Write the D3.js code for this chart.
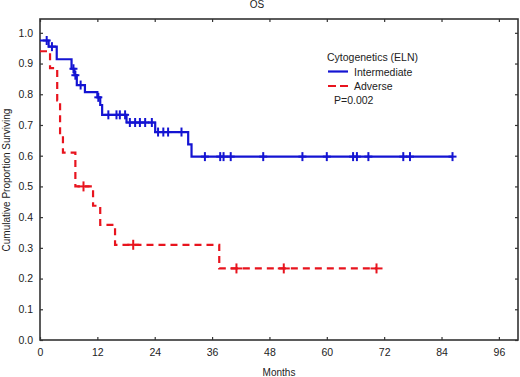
<!DOCTYPE html>
<html>
<head>
<meta charset="utf-8">
<script src="https://cdn.jsdelivr.net/npm/d3@7"></script>
<style>
  body { margin: 0; background: #fff; }
  text { font-family: 'Liberation Sans', Arial, sans-serif; fill: #222; }
</style>
</head>
<body>
<div id="grafica"></div>
<script>
// datos
inter_times  = [0, 1.8, 3.5, 6.6, 7.2, 7.7, 9.4, 12.0, 12.6, 13.0, 18.1, 24.1, 31.0, 31.7]
inter_surv   = [0.975, 0.955, 0.914, 0.883, 0.862, 0.83, 0.807, 0.79, 0.765, 0.733, 0.708, 0.677, 0.637, 0.597]
inter_end    = 86.3
inter_censor = [1.4, 2.5, 7.0, 7.4, 8.5, 12.2, 14.3, 16.0, 16.7, 17.8, 18.8, 19.9, 20.9, 22.0, 23.4,
                24.7, 25.8, 26.8, 29.6, 34.5, 37.7, 38.4, 39.9, 46.7, 54.9, 60, 65.5, 66.3, 68.7,
                76, 77.4, 86.3]

adv_times  = [0, 2.1, 3.6, 4.2, 4.8, 7.4, 11.1, 12.6, 15.7, 37.5]
adv_surv   = [0.94, 0.885, 0.78, 0.67, 0.61, 0.5, 0.437, 0.375, 0.31, 0.233]
adv_end    = 70.4
adv_censor = [9.1, 19.5, 41.1, 51, 70.4]

x_ticks = [0, 12, 24, 36, 48, 60, 72, 84, 96]
y_ticks = [0, 0.1, 0.2, 0.3, 0.4, 0.5, 0.6, 0.7, 0.8, 0.9, 1.0]

legend_title  = 'Cytogenetics (ELN)'
legend_labels = ['Intermediate', 'Adverse']
p_text        = 'P=0.002'

ancho_total = 520
alto_total  = 377
margin = { left: 40, right: 2, top: 19, bottom: 37 }
ancho = ancho_total - margin.left - margin.right
alto  = alto_total - margin.top - margin.bottom

svg = d3.select('#grafica')
        .append('svg')
        .attr('width', ancho_total)
        .attr('height', alto_total)

g = svg.append('g')
       .attr('transform', `translate(${margin.left},${margin.top})`)

x = d3.scaleLinear().domain([0, 100]).range([0, ancho])
y = d3.scaleLinear().domain([0, 1.045]).range([alto, 0])

// ejes
xAxis = g.append('g')
         .attr('transform', `translate(0,${alto})`)
         .call(d3.axisBottom(x).tickValues(x_ticks).tickSizeInner(-3).tickSizeOuter(0).tickPadding(9))
yAxis = g.append('g')
         .call(d3.axisLeft(y).tickValues(y_ticks).tickFormat(d3.format('.1f'))
                 .tickSizeInner(-3).tickSizeOuter(0).tickPadding(7))
topAxis = g.append('g')
           .call(d3.axisTop(x).tickValues(x_ticks).tickSizeInner(-3).tickSizeOuter(0).tickFormat(''))
rightAxis = g.append('g')
             .attr('transform', `translate(${ancho},0)`)
             .call(d3.axisRight(y).tickValues(y_ticks).tickSizeInner(-3).tickSizeOuter(0).tickFormat(''))

g.selectAll('.domain').remove()
g.selectAll('.tick line').attr('stroke', '#333').attr('stroke-width', 1.2)
g.selectAll('.tick text').attr('font-size', '10.5px').attr('fill', '#222')
  .style('font-family', "'Liberation Sans', Arial, sans-serif")

g.append('rect')
  .attr('width', ancho)
  .attr('height', alto)
  .attr('fill', 'none')
  .attr('stroke', '#333')
  .attr('stroke-width', 1.6)

// curvas
function steps(times, surv, end) {
  pts = times.map((t, i) => [t, surv[i]])
  pts.push([end, surv[surv.length - 1]])
  return pts
}
function survAt(times, surv, t) {
  i = d3.bisectRight(times, t) - 1
  return surv[Math.max(i, 0)]
}

linea = d3.line()
          .x((d) => x(d[0]))
          .y((d) => y(d[1]))
          .curve(d3.curveStepAfter)

series = [
  { times: inter_times, surv: inter_surv, end: inter_end, censor: inter_censor,
    color: '#1414d2', dash: null, tw: 4, th: 4.5 },
  { times: adv_times, surv: adv_surv, end: adv_end, censor: adv_censor,
    color: '#e8141e', dash: '7,5', tw: 6, th: 5 }
]

series.forEach((s) => {
  g.append('path')
    .datum(steps(s.times, s.surv, s.end))
    .attr('d', linea)
    .attr('fill', 'none')
    .attr('stroke', s.color)
    .attr('stroke-width', 2.2)
    .attr('stroke-dasharray', s.dash)

  marcas = g.append('g')
            .selectAll('g')
            .data(s.censor)
            .enter()
            .append('g')
            .attr('transform', (d) => `translate(${x(d)},${y(survAt(s.times, s.surv, d))})`)
  marcas.append('line')
        .attr('x1', -s.tw).attr('x2', s.tw)
        .attr('stroke', s.color).attr('stroke-width', 2)
  marcas.append('line')
        .attr('y1', -s.th).attr('y2', s.th)
        .attr('stroke', s.color).attr('stroke-width', 2)
})

// titulos
svg.append('text')
   .attr('x', 257).attr('y', 8)
   .attr('text-anchor', 'middle')
   .attr('font-size', '10px')
   .text('OS')

svg.append('text')
   .attr('x', 279).attr('y', 376)
   .attr('text-anchor', 'middle')
   .attr('font-size', '10px')
   .text('Months')

svg.append('text')
   .attr('transform', 'translate(10,180) rotate(-90)')
   .attr('text-anchor', 'middle')
   .attr('font-size', '10px')
   .text('Cumulative Proportion Surviving')

// leyenda
leyenda = svg.append('g').attr('transform', 'translate(327,61)')
leyenda.append('text')
       .attr('x', 0).attr('y', 0)
       .attr('font-size', '10.5px')
       .text(legend_title)

legend_labels.forEach((lab, i) => {
  yy = 14.5 * (i + 1) - 4
  leyenda.append('line')
         .attr('x1', 1).attr('x2', 21)
         .attr('y1', yy).attr('y2', yy)
         .attr('stroke', series[i].color)
         .attr('stroke-width', 2.2)
         .attr('stroke-dasharray', i == 1 ? '8,4' : null)
  leyenda.append('text')
         .attr('x', 27).attr('y', yy + 4)
         .attr('font-size', '10.5px')
         .text(lab)
})

leyenda.append('text')
       .attr('x', 7).attr('y', 43)
       .attr('font-size', '10.5px')
       .text(p_text)
</script>
</body>
</html>
